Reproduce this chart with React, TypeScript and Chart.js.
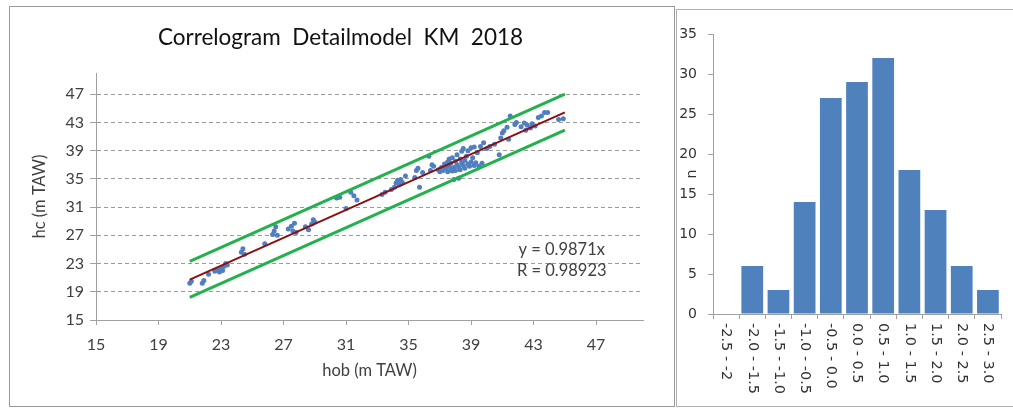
import React, { useEffect, useRef } from "react";
import { Chart, registerables } from "chart.js";
Chart.register(...registerables);

// ---------- Correlogram data ----------
const chartTitle = "Correlogram  Detailmodel  KM  2018";
const xAxisTitle = "hob (m TAW)";
const yAxisTitle = "hc (m TAW)";
const axisTicks = [15, 19, 23, 27, 31, 35, 39, 43, 47];
const axisMin = 15;
const axisMax = 50;

const hobValues = [
  21.0, 21.1, 21.8, 21.9, 22.2, 22.6, 22.8, 22.9, 23.0, 23.1, 23.2, 23.3, 23.4,
  24.3, 24.4, 24.5, 25.8, 26.3, 26.4, 26.5, 26.6,
  27.3, 27.5, 27.6, 27.7, 27.8, 28.4, 28.6, 28.8, 28.9, 29.0,
  30.4, 30.6, 31.0, 31.3, 31.5, 31.7,
  33.3, 33.5, 33.9, 34.1, 34.2, 34.3, 34.4, 34.5, 34.6, 34.8, 35.4, 35.5, 35.6, 35.7, 35.9, 36.3, 36.4, 36.6, 36.5,
  36.9, 37.0, 37.1, 37.2, 37.3, 37.4, 37.5, 37.5, 37.6, 37.6, 37.7, 37.7, 37.8, 37.8, 37.9, 37.9, 38.0, 38.0,
  38.1, 38.1, 38.2, 38.2, 38.3, 38.3, 38.4, 38.4, 38.5, 38.5, 38.6, 38.6, 38.7, 38.8, 38.8, 38.9, 39.0, 39.0,
  39.1, 39.2, 39.2, 39.3, 39.4, 39.5, 39.6, 39.7, 39.8, 40.0,
  40.2, 40.5, 40.8, 40.9, 41.0, 41.1, 41.3, 41.4, 41.5, 41.8, 41.9, 42.2, 42.4, 42.5, 42.6, 42.8, 42.9, 43.1,
  43.3, 43.5, 43.7, 43.9, 44.6, 44.9,
];
const hcValues = [
  20.2, 20.5, 20.2, 20.6, 21.5, 21.9, 22.1, 21.8, 22.3, 22.0, 22.6, 23.0, 22.8,
  24.6, 25.1, 24.3, 25.8, 27.1, 27.6, 28.2, 27.0,
  27.9, 28.3, 27.6, 28.7, 27.4, 28.2, 27.8, 28.6, 29.2, 28.9,
  32.3, 32.4, 30.8, 33.1, 32.6, 32.0,
  32.8, 33.1, 33.5, 33.8, 34.4, 34.8, 34.2, 34.9, 34.5, 35.4, 35.2, 36.2, 36.5, 33.8, 35.9, 38.2, 36.2, 36.8, 37.0,
  36.3, 36.0, 36.6, 36.2, 37.1, 36.5, 36.0, 37.4, 36.8, 37.8, 36.4, 37.2, 36.1, 38.0, 34.9, 36.6, 37.5, 36.2,
  37.0, 38.4, 35.1, 36.7, 37.8, 36.3, 37.3, 38.9, 36.9, 39.3, 37.6, 36.5, 38.2, 37.1, 39.0, 36.8, 39.4, 37.4,
  38.0, 36.9, 39.5, 37.3, 38.7, 36.8, 39.6, 37.2, 40.1, 39.3,
  39.6, 39.9, 38.4, 40.8, 41.5, 41.8, 42.3, 40.6, 43.9, 42.7, 43.0, 42.4, 42.9, 41.9, 42.6, 42.2, 42.8, 42.5,
  43.7, 43.9, 44.4, 44.4, 43.4, 43.5,
];

const trendX = [21, 45];
const trendY = [20.73, 44.42];
const upperY = [23.3, 47.0];
const lowerY = [18.2, 41.9];

const equationLines = ["y = 0.9871x", "R = 0.98923"];
const equationAnchorX = 44.8;
const equationAnchorY = [25.0, 22.0];

// ---------- Histogram data ----------
const histLabels = [
  "-2.5 - -2",
  "-2.0 - -1.5",
  "-1.5 - -1.0",
  "-1.0 - -0.5",
  "-0.5 - 0.0",
  "0.0 - 0.5",
  "0.5 - 1.0",
  "1.0 - 1.5",
  "1.5 - 2.0",
  "2.0 - 2.5",
  "2.5 - 3.0",
];
const histCounts = [0, 6, 3, 14, 27, 29, 32, 18, 13, 6, 3];
const histYTitle = "n";
const histMax = 35;
const histStep = 5;

const LEFT_FONT = "Lato, 'Open Sans', sans-serif";
const RIGHT_FONT = "'DejaVu Sans', Verdana, sans-serif";
const AXIS_GRAY = "#a0a0a0";
const TEXT_DARK = "#404040";

function CorrelogramChart() {
  const ref = useRef<HTMLCanvasElement | null>(null);
  useEffect(() => {
    if (!ref.current) return;
    const pts = hobValues.map((x, i) => ({ x, y: hcValues[i] }));
    const mk = (ys: number[]) => trendX.map((x, i) => ({ x, y: ys[i] }));
    const textPlugin = {
      id: "chartTexts",
      afterDatasetsDraw(chart: any) {
        const { ctx, scales, width } = chart;
        ctx.save();
        // chart title, centred in the framed panel
        ctx.font = `22.5px ${LEFT_FONT}`;
        ctx.fillStyle = "#111";
        ctx.textAlign = "center";
        ctx.textBaseline = "middle";
        ctx.fillText(chartTitle, width / 2 - 1.5, 31);
        // regression text
        ctx.font = `16.5px ${LEFT_FONT}`;
        ctx.fillStyle = TEXT_DARK;
        equationLines.forEach((t, i) => {
          ctx.fillText(t, scales.x.getPixelForValue(equationAnchorX), scales.y.getPixelForValue(equationAnchorY[i]));
        });
        ctx.restore();
      },
    };
    const setTicks = (s: any) => {
      s.ticks = axisTicks.map((v) => ({ value: v }));
    };
    const chart = new Chart(ref.current, {
      type: "scatter",
      data: {
        datasets: [
          { data: mk(trendY), showLine: true, borderColor: "#8e0e0e", borderWidth: 2, pointRadius: 0, order: 0 },
          { data: mk(upperY), showLine: true, borderColor: "#23b14d", borderWidth: 3, pointRadius: 0, order: 1 },
          { data: mk(lowerY), showLine: true, borderColor: "#23b14d", borderWidth: 3, pointRadius: 0, order: 1 },
          { data: pts, pointRadius: 2.5, backgroundColor: "#4f7fc0", borderWidth: 0, order: 2 },
        ],
      },
      options: {
        animation: false,
        responsive: false,
        events: [],
        layout: { padding: { left: 0, right: 31, top: 66, bottom: 0 } },
        plugins: {
          legend: { display: false },
          tooltip: { enabled: false },
          title: { display: false },
        },
        scales: {
          x: {
            type: "linear",
            min: axisMin,
            max: axisMax,
            afterBuildTicks: setTicks,
            afterFit: (s: any) => {
              s.height = 86;
            },
            grid: { drawOnChartArea: false, drawTicks: true, tickLength: 5, color: AXIS_GRAY },
            border: { color: AXIS_GRAY, width: 1 },
            ticks: { font: { family: LEFT_FONT, size: 16 }, color: TEXT_DARK, padding: 10, maxRotation: 0, autoSkip: false },
            title: {
              display: true,
              text: xAxisTitle,
              color: TEXT_DARK,
              font: { family: LEFT_FONT, size: 16.5 },
              padding: { top: 0, bottom: 25 },
            },
          },
          y: {
            type: "linear",
            min: axisMin,
            max: axisMax,
            afterBuildTicks: setTicks,
            afterFit: (s: any) => {
              s.width = 86;
            },
            grid: { color: "#9a9a9a", tickLength: 6, tickBorderDash: [], tickColor: AXIS_GRAY },
            border: { color: AXIS_GRAY, width: 1, dash: [4, 3] },
            ticks: { font: { family: LEFT_FONT, size: 16 }, color: TEXT_DARK, padding: 6, autoSkip: false },
            title: {
              display: true,
              text: yAxisTitle,
              color: TEXT_DARK,
              font: { family: LEFT_FONT, size: 16.5 },
              padding: { top: 20, bottom: 0 },
            },
          },
        },
      } as any,
      plugins: [textPlugin],
    });
    return () => chart.destroy();
  }, []);
  return <canvas ref={ref} width={664} height={399} style={{ display: "block", width: 664, height: 399 }} />;
}

function HistogramChart() {
  const ref = useRef<HTMLCanvasElement | null>(null);
  useEffect(() => {
    if (!ref.current) return;
    const labelPlugin = {
      id: "verticalLabels",
      afterDraw(chart: any) {
        const { ctx, scales } = chart;
        const xs = scales.x;
        ctx.save();
        ctx.font = `14.5px ${RIGHT_FONT}`;
        ctx.fillStyle = "#333";
        ctx.textAlign = "left";
        ctx.textBaseline = "middle";
        histLabels.forEach((lab, i) => {
          ctx.save();
          ctx.translate(xs.getPixelForTick(i), xs.top + 9);
          ctx.rotate(Math.PI / 2);
          ctx.fillText(lab, 0, 0);
          ctx.restore();
        });
        ctx.restore();
      },
    };
    const chart = new Chart(ref.current, {
      type: "bar",
      data: {
        labels: histLabels,
        datasets: [
          {
            data: histCounts,
            backgroundColor: "#4f81bd",
            borderWidth: 0,
            barPercentage: 0.83,
            categoryPercentage: 1,
          },
        ],
      },
      options: {
        animation: false,
        responsive: false,
        events: [],
        layout: { padding: { left: 0, right: 12, top: 24, bottom: 0 } },
        plugins: { legend: { display: false }, tooltip: { enabled: false } },
        scales: {
          x: {
            ticks: { display: false },
            grid: { drawOnChartArea: false, drawTicks: true, tickLength: 5, color: AXIS_GRAY, offset: true },
            border: { color: AXIS_GRAY, width: 1 },
            afterFit: (s: any) => {
              s.height = 92;
            },
          },
          y: {
            min: 0,
            max: histMax,
            ticks: { stepSize: histStep, padding: 11, color: "#333", font: { family: RIGHT_FONT, size: 14 } },
            grid: { drawOnChartArea: false, drawTicks: true, tickLength: 5, color: AXIS_GRAY },
            border: { color: AXIS_GRAY, width: 1 },
            title: {
              display: true,
              text: histYTitle,
              color: "#333",
              font: { family: RIGHT_FONT, size: 14 },
              padding: { top: 7, bottom: 0 },
            },
            afterFit: (s: any) => {
              s.width = 36;
            },
          },
        },
      } as any,
      plugins: [labelPlugin],
    });
    return () => chart.destroy();
  }, []);
  return <canvas ref={ref} width={336} height={396} style={{ display: "block", width: 336, height: 396 }} />;
}

export default function App() {
  return (
    <div style={{ position: "fixed", left: 0, top: 0, width: 1013, height: 410, background: "#fff", overflow: "hidden" }}>
      <div
        style={{
          position: "absolute",
          left: 9,
          top: 6,
          width: 664,
          height: 399,
          border: "1px solid #9a9a9a",
        }}
      >
        <CorrelogramChart />
      </div>
      <div
        style={{
          position: "absolute",
          left: 676,
          top: 9,
          width: 340,
          height: 396,
          border: "1px solid #b0b0b0",
        }}
      >
        <HistogramChart />
      </div>
    </div>
  );
}
